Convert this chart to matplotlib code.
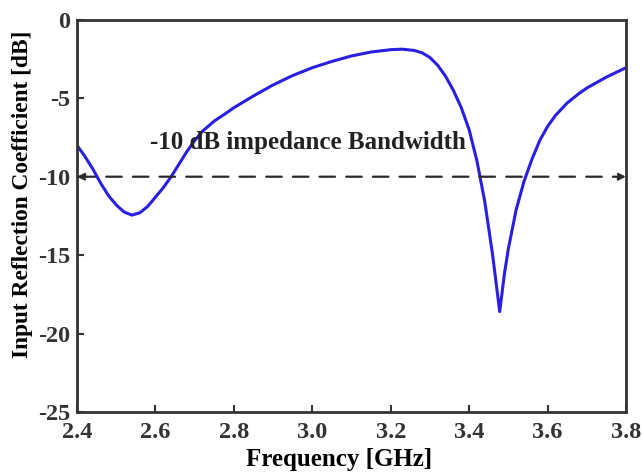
import matplotlib
matplotlib.use('Agg')
import matplotlib.pyplot as plt

plt.rcParams['font.family'] = ['Liberation Serif', 'DejaVu Serif']
plt.rcParams['font.weight'] = 'bold'
plt.rcParams['axes.unicode_minus'] = False

# Input reflection coefficient
freq = [2.40, 2.42, 2.44, 2.46, 2.48, 2.50, 2.52, 2.54, 2.56, 2.58, 2.60, 2.62,
        2.64, 2.66, 2.68, 2.70, 2.72, 2.75, 2.78, 2.80, 2.85, 2.90, 2.95, 3.00,
        3.05, 3.10, 3.15, 3.20, 3.23, 3.26, 3.28, 3.30, 3.32, 3.34, 3.36, 3.38,
        3.40, 3.42, 3.44, 3.46, 3.47, 3.478, 3.49, 3.50, 3.52, 3.54, 3.56, 3.58,
        3.60, 3.62, 3.65, 3.68, 3.70, 3.75, 3.80]
s11 = [-8.0, -8.7, -9.5, -10.4, -11.2, -11.8, -12.25, -12.45, -12.3, -11.9, -11.3, -10.7,
       -10.0, -9.2, -8.4, -7.7, -7.1, -6.45, -5.95, -5.6, -4.85, -4.15, -3.55, -3.05,
       -2.65, -2.3, -2.05, -1.9, -1.87, -1.95, -2.1, -2.4, -2.9, -3.6, -4.5, -5.6,
       -7.0, -9.0, -11.6, -15.0, -17.0, -18.6, -16.2, -14.6, -12.1, -10.3, -8.9, -7.7,
       -6.8, -6.1, -5.3, -4.7, -4.35, -3.65, -3.05]

bw_level = -10
xticks = [2.4, 2.6, 2.8, 3.0, 3.2, 3.4, 3.6, 3.8]
yticks = [0, -5, -10, -15, -20, -25]

fig = plt.figure(figsize=(6.42, 4.73), dpi=100)
ax = fig.add_axes([0.12, 0.129, 0.855, 0.829])

ax.plot(freq, s11, color='#2a1fe0', lw=2.2)

# dashed -10 dB line with arrow heads
ax.annotate('', xy=(3.8, bw_level), xytext=(2.4, bw_level),
            arrowprops=dict(arrowstyle='<|-|>', color='#2a2a2a', lw=1.6,
                            linestyle=(0, (7, 5)), mutation_scale=10,
                            shrinkA=0, shrinkB=0))
ax.text(2.585, -7.8, '-10 dB impedance Bandwidth', fontsize=18,
        fontweight='bold', color='#222222', va='center', ha='left')

ax.set_xlim(2.4, 3.8)
ax.set_ylim(-25, 0)
ax.set_xticks(xticks)
ax.set_xticklabels(['%.1f' % v for v in xticks])
ax.set_yticks(yticks)

for s in ax.spines.values():
    s.set_linewidth(2)
    s.set_color('#333333')
ax.tick_params(direction='in', length=5, width=1.5, labelsize=17.5,
               colors='#333333', top=False, right=False)
ax.tick_params(axis='x', pad=7)
ax.tick_params(axis='y', pad=5)

ax.set_xlabel('Frequency [GHz]', fontsize=18, fontweight='bold')
ax.set_ylabel('Input Reflection Coefficient [dB]', fontsize=16.8, fontweight='bold')
ax.xaxis.set_label_coords(0.478, -0.092)
ax.yaxis.set_label_coords(-0.08, 0.554)

fig.savefig('out.png', dpi=100)
